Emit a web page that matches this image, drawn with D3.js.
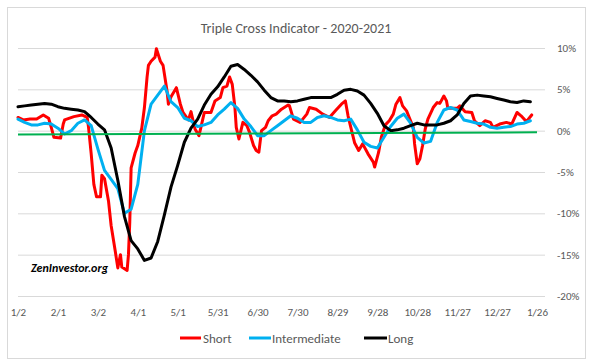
<!DOCTYPE html>
<html>
<head>
<meta charset="utf-8">
<script src="https://cdn.jsdelivr.net/npm/d3@7"></script>
<style>
  html, body { margin: 0; padding: 0; background: #fff; }
  svg { display: block; }
  text { font-family: Calibri, Carlito, Lato, "Open Sans", sans-serif; }
</style>
</head>
<body>
<svg id="chart" width="593" height="364"></svg>
<script>
// ---------- DATA ----------
const title = "Triple Cross Indicator - 2020-2021";
const watermark = "ZenInvestor.org";
const seriesNames = ["Short", "Intermediate", "Long"];

// grid dates for Intermediate and Long (every 5 days)
const dates = [
  "2020-01-02","2020-01-07","2020-01-12","2020-01-17","2020-01-22","2020-01-27","2020-02-01","2020-02-06","2020-02-11","2020-02-16",
  "2020-02-21","2020-02-26","2020-03-02","2020-03-07","2020-03-12","2020-03-17","2020-03-22","2020-03-27","2020-04-01","2020-04-06",
  "2020-04-11","2020-04-16","2020-04-21","2020-04-26","2020-05-01","2020-05-06","2020-05-11","2020-05-16","2020-05-21","2020-05-26",
  "2020-05-31","2020-06-05","2020-06-10","2020-06-15","2020-06-20","2020-06-25","2020-06-30","2020-07-05","2020-07-10","2020-07-15",
  "2020-07-20","2020-07-25","2020-07-30","2020-08-04","2020-08-09","2020-08-14","2020-08-19","2020-08-24","2020-08-29","2020-09-03",
  "2020-09-08","2020-09-13","2020-09-18","2020-09-23","2020-09-28","2020-10-03","2020-10-08","2020-10-13","2020-10-18","2020-10-23",
  "2020-10-28","2020-11-02","2020-11-07","2020-11-12","2020-11-17","2020-11-22","2020-11-27","2020-12-02","2020-12-07","2020-12-12",
  "2020-12-17","2020-12-22","2020-12-27","2021-01-01","2021-01-06","2021-01-11","2021-01-16","2021-01-21"
];

const intermediate = [
  1.4,1.0,0.7,0.7,0.9,0.8,0.3,-0.4,0.0,0.9,
  1.3,0.6,-2.2,-4.8,-5.9,-7.0,-10.0,-9.5,-6.5,0.0,
  3.2,4.3,5.4,3.5,2.8,1.5,1.2,0.5,0.7,1.0,
  1.9,2.6,3.4,2.7,1.4,0.5,-0.6,-0.6,0.0,0.6,
  1.2,1.8,1.5,1.0,1.0,1.6,1.8,1.6,1.3,1.2,
  1.4,0.1,-1.4,-1.9,-2.1,-0.8,0.5,1.5,2.0,0.9,
  -0.8,-1.5,-1.3,1.0,2.5,2.8,2.5,1.3,1.1,0.9,
  0.8,0.4,0.3,0.4,0.5,0.8,0.9,1.2
];

const long = [
  2.9,3.0,3.1,3.2,3.3,3.2,2.9,2.7,2.6,2.5,
  2.3,1.6,0.8,0.1,-2.1,-6.0,-10.4,-13.3,-14.3,-15.7,
  -15.4,-13.4,-10.2,-6.8,-4.2,-1.4,0.3,1.4,3.1,4.4,
  5.3,6.5,7.8,8.0,7.4,6.7,5.9,4.9,4.0,3.6,
  3.6,3.5,3.6,3.8,4.0,4.0,4.0,4.0,4.4,4.9,
  5.0,4.8,4.3,3.3,2.1,0.6,0.0,0.1,0.3,0.6,
  0.9,0.7,0.7,0.7,0.9,1.2,1.9,3.3,4.2,4.3,
  4.2,4.1,3.9,3.7,3.5,3.4,3.6,3.5
];

// Short series read at its turning points
const shortDates = [
  "2020-01-02","2020-01-06","2020-01-11","2020-01-16","2020-01-21","2020-01-25","2020-01-27","2020-01-29","2020-02-03","2020-02-05",
  "2020-02-06","2020-02-13","2020-02-19","2020-02-23","2020-02-24","2020-02-26","2020-02-28","2020-03-01","2020-03-04","2020-03-05",
  "2020-03-07","2020-03-10","2020-03-12","2020-03-15","2020-03-17","2020-03-19","2020-03-20","2020-03-24","2020-03-25","2020-03-26",
  "2020-03-27","2020-03-30","2020-04-01","2020-04-04","2020-04-06","2020-04-08","2020-04-09","2020-04-11","2020-04-14","2020-04-15",
  "2020-04-18","2020-04-20","2020-04-23","2020-04-24","2020-04-26","2020-04-30","2020-05-03","2020-05-05","2020-05-09","2020-05-11",
  "2020-05-14","2020-05-17","2020-05-19","2020-05-21","2020-05-26","2020-05-29","2020-06-02","2020-06-04","2020-06-07","2020-06-09",
  "2020-06-11","2020-06-13","2020-06-14","2020-06-16","2020-06-19","2020-06-22","2020-06-24","2020-06-27","2020-06-29","2020-07-01",
  "2020-07-03","2020-07-06","2020-07-08","2020-07-11","2020-07-14","2020-07-18","2020-07-23","2020-07-24","2020-07-27","2020-08-01",
  "2020-08-06","2020-08-08","2020-08-13","2020-08-18","2020-08-23","2020-08-28","2020-09-01","2020-09-04","2020-09-06","2020-09-09",
  "2020-09-11","2020-09-14","2020-09-17","2020-09-21","2020-09-25","2020-09-26","2020-09-29","2020-10-01","2020-10-04","2020-10-07",
  "2020-10-10","2020-10-12","2020-10-15","2020-10-17","2020-10-20","2020-10-22","2020-10-25","2020-10-26","2020-10-28","2020-10-30",
  "2020-11-01","2020-11-03","2020-11-05","2020-11-09","2020-11-12","2020-11-14","2020-11-17","2020-11-19","2020-11-20","2020-11-27",
  "2020-11-29","2020-12-03","2020-12-08","2020-12-10","2020-12-14","2020-12-18","2020-12-22","2020-12-24","2020-12-29","2021-01-03",
  "2021-01-07","2021-01-11","2021-01-14","2021-01-18","2021-01-22"
];
const shortValues = [
  1.6,1.3,1.4,1.4,1.9,1.5,0.4,-0.8,-0.9,0.8,
  1.3,1.7,1.9,1.6,0.4,-2.8,-6.5,-8.0,-8.0,-5.4,
  -5.8,-8.5,-11.5,-14.5,-16.6,-15.0,-16.5,-16.9,-15.0,-11.0,
  -4.5,-2.7,-1.8,0.3,2.8,6.5,7.9,8.4,8.9,9.9,
  8.4,7.9,4.8,3.2,4.1,5.2,3.2,2.2,1.3,2.3,
  0.2,-0.6,0.8,2.2,2.2,3.6,4.0,5.2,5.4,6.5,
  5.6,2.8,0.4,-1.0,1.0,0.6,-0.2,-1.8,-2.4,-2.6,
  0.0,0.4,1.2,1.8,2.0,2.6,3.1,3.0,1.4,1.0,
  2.0,2.8,2.6,2.0,1.6,2.5,3.2,3.6,1.8,-0.2,
  -1.5,-2.4,-1.6,-2.8,-3.8,-4.4,-2.6,-0.8,0.7,1.2,
  2.0,3.2,4.0,3.0,2.4,1.6,0.4,-1.6,-4.0,-3.4,
  -1.8,0.2,1.4,2.8,3.4,3.3,4.2,3.6,2.7,2.7,
  3.0,2.3,2.2,1.2,0.6,1.2,1.0,0.4,0.8,1.0,
  0.8,2.2,1.8,1.1,1.9
];

// green reference line (start and end)
const baseDates = ["2020-01-02","2021-01-26"];
const baseValues = [-0.45, -0.2];

const xTickDates = ["2020-01-02","2020-02-01","2020-03-02","2020-04-01","2020-05-01","2020-05-31","2020-06-30",
                    "2020-07-30","2020-08-29","2020-09-28","2020-10-28","2020-11-27","2020-12-27","2021-01-26"];
const yTicks = [-20,-15,-10,-5,0,5,10];
const colors = {Short: "#ff0000", Intermediate: "#00b0f0", Long: "#000000", base: "#00b050"};

// ---------- CHART ----------
const parse = d3.utcParse("%Y-%m-%d");
const svg = d3.select("#chart");
const plotLeft = 18, plotRight = 545, plotTop = 48, plotBottom = 296;

svg.append("rect").attr("x",0).attr("y",0).attr("width",593).attr("height",364).attr("fill","#fff");
svg.append("rect").attr("x",7.5).attr("y",7.5).attr("width",578).attr("height",351)
   .attr("fill","none").attr("stroke","#d9d9d9");

const x = d3.scaleUtc().domain([parse("2020-01-02"), parse("2021-02-01")]).range([plotLeft, plotRight]);
const y = d3.scaleLinear().domain([-20, 10]).range([plotBottom, plotTop]);

// gridlines + right labels
const yAxis = svg.append("g").attr("transform", `translate(${plotRight},0)`)
  .call(d3.axisRight(y).tickValues(yTicks).tickSize(-(plotRight-plotLeft)).tickPadding(12).tickFormat(d => d + "%"));
yAxis.select(".domain").remove();
yAxis.selectAll(".tick line").attr("stroke","#d9d9d9").attr("stroke-width",1);
yAxis.selectAll(".tick text").attr("fill","#595959").style("font-size","11px");

// x labels
const xAxis = svg.append("g").attr("transform", `translate(0,${plotBottom})`)
  .call(d3.axisBottom(x).tickValues(xTickDates.map(parse)).tickSize(0).tickPadding(12)
        .tickFormat(d3.utcFormat("%-m/%-d")));
xAxis.select(".domain").remove();
xAxis.selectAll(".tick text").attr("fill","#595959").style("font-size","11px");

// title
svg.append("text").attr("x", 296).attr("y", 33).attr("text-anchor","middle")
  .attr("fill","#595959").style("font-size","14px").text(title);

// lines
const line = d3.line().x(d => x(d.date)).y(d => y(d.v));
const shortData = shortDates.map((d,i) => ({date: parse(d), v: shortValues[i]}));
const interData = dates.map((d,i) => ({date: parse(d), v: intermediate[i]}));
const longData = dates.map((d,i) => ({date: parse(d), v: long[i]}));
const baseData = baseDates.map((d,i) => ({date: parse(d), v: baseValues[i]}));

[[shortData, colors.Short],[interData, colors.Intermediate],[longData, colors.Long]].forEach(([data, c]) => {
  svg.append("path").datum(data).attr("d", line).attr("fill","none").attr("stroke", c)
    .attr("stroke-width", 3).attr("stroke-linejoin","round").attr("stroke-linecap","round");
});
svg.append("path").datum(baseData).attr("d", line).attr("fill","none")
  .attr("stroke", colors.base).attr("stroke-width", 2);

// watermark
svg.append("text").attr("x", 31).attr("y", 272).attr("fill","#000")
  .style("font-size","12px").style("font-weight","bold").style("font-style","italic")
  .attr("textLength", 77).attr("lengthAdjust","spacingAndGlyphs").text(watermark);

// legend
const legendItems = [
  {name: seriesNames[0], x1: 180, x2: 201, tx: 203},
  {name: seriesNames[1], x1: 249, x2: 271, tx: 272},
  {name: seriesNames[2], x1: 364, x2: 387, tx: 388}
];
const lg = svg.append("g");
legendItems.forEach(it => {
  lg.append("line").attr("x1", it.x1).attr("x2", it.x2).attr("y1", 338).attr("y2", 338)
    .attr("stroke", colors[it.name]).attr("stroke-width", 3);
  lg.append("text").attr("x", it.tx).attr("y", 342.5).attr("fill","#595959")
    .style("font-size","13px").text(it.name);
});
</script>
</body>
</html>
